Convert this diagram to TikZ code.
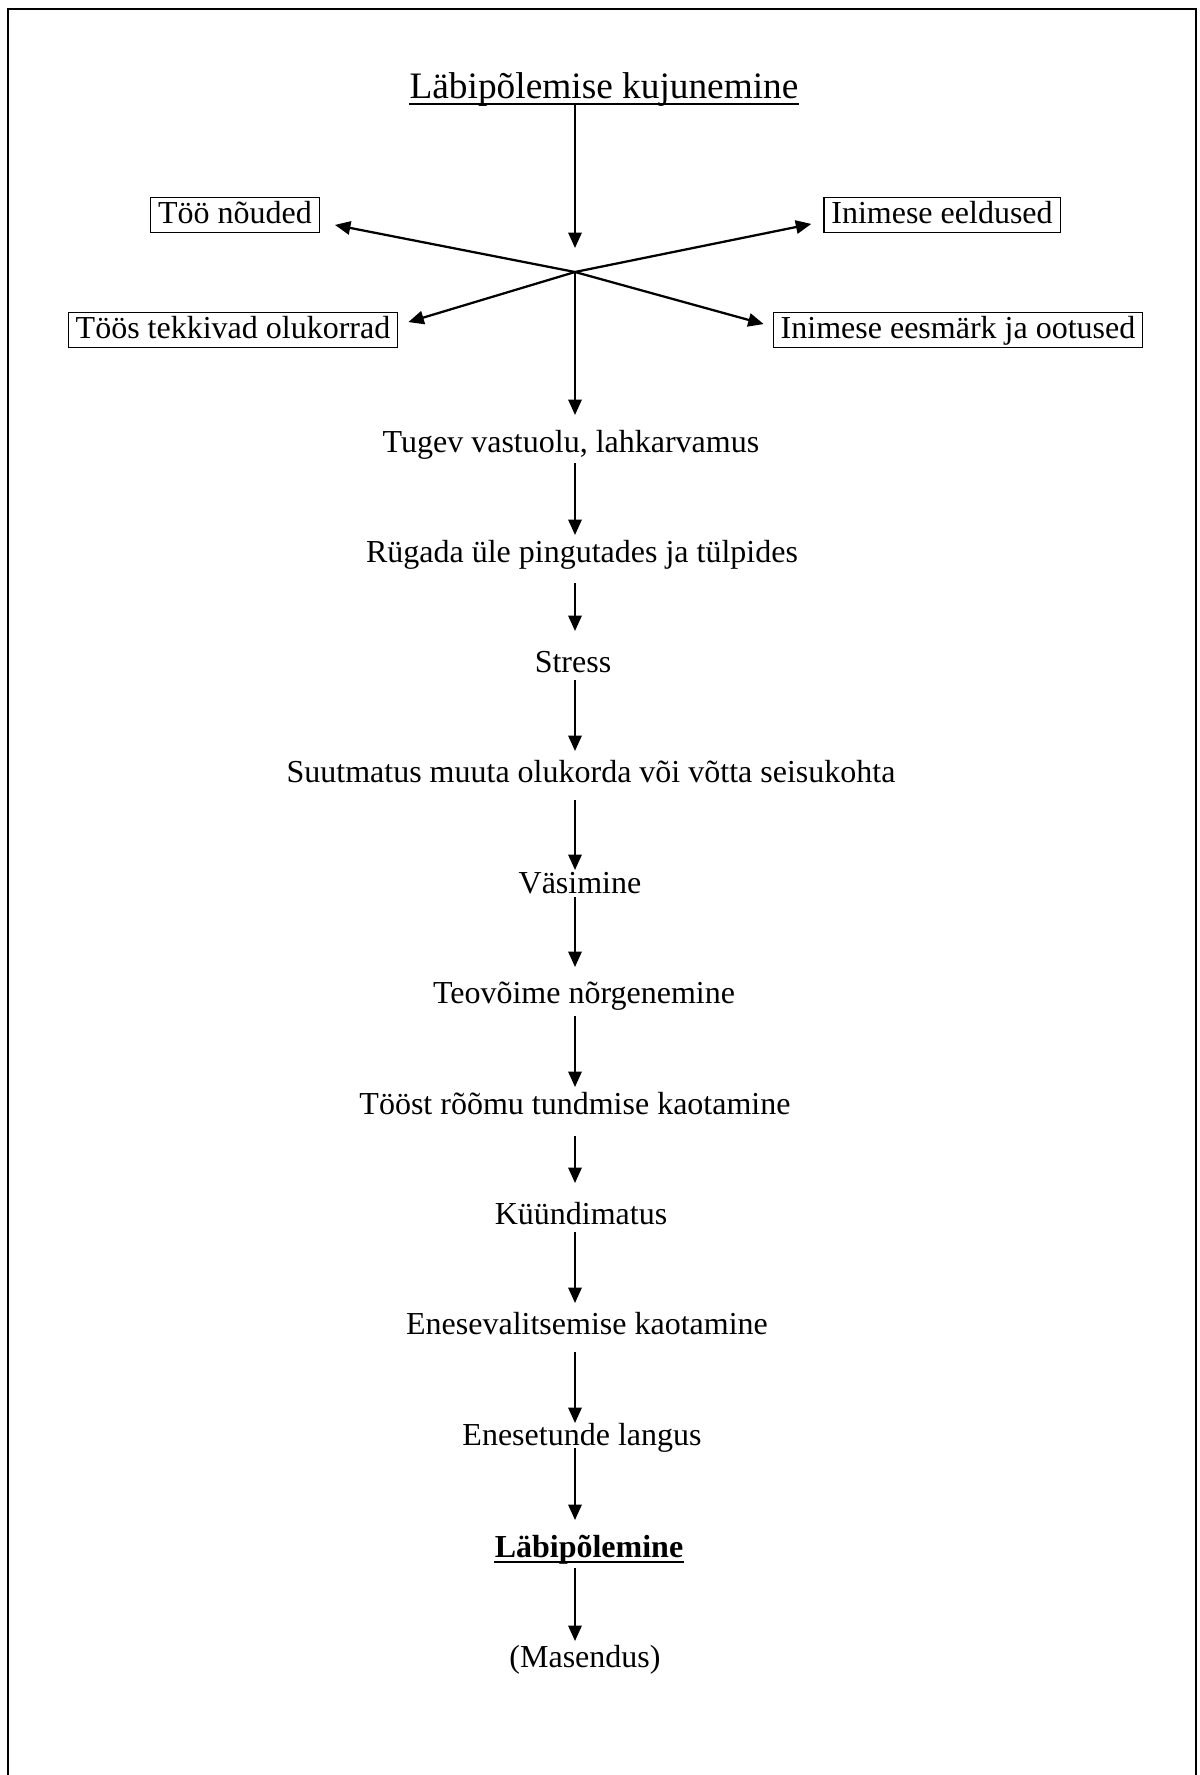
\documentclass[tikz,border=0pt]{standalone}
\usepackage{fontspec}
\setmainfont{Liberation Serif}
\usetikzlibrary{arrows.meta,calc}

\begin{document}
\begin{tikzpicture}[
    x=0.375pt,y=-0.375pt,
    font=\fontsize{12}{14}\selectfont,
    stage/.style={anchor=base,inner sep=0pt,text height=0.75em,text depth=0.2em},
    heading/.style={stage,font=\fontsize{14}{16}\selectfont},
    strong/.style={stage,font=\fontsize{12}{14}\selectfont\bfseries},
    factor/.style={draw=black,line width=0.45pt,anchor=base,inner xsep=2.8pt,inner ysep=2pt,text height=0.75em,text depth=0.15em},
    flow/.style={draw=black,line width=0.85pt,-{Triangle[length=5.8pt,width=5pt]}},
    frameline/.style={draw=black,line width=0.8pt}
]
\useasboundingbox (0,0) rectangle (1200,1775);
\draw[frameline] (8,1775) -- (8,9) -- (1196,9) -- (1196,1775);


\coordinate (spine) at (575,0);
\coordinate (hub) at (575,272);


\node[heading] (title) at (604,98) {Läbipõlemise kujunemine};
\draw[line width=0.45pt] ($(title.base west)+(0,6)$) -- ($(title.base east)+(0,6)$);


\node[factor] (noudeid) at (235,223) {Töö nõuded};
\node[factor] (eeldused) at (942,223) {Inimese eeldused};
\node[factor] (olukorrad) at (233,338) {Töös tekkivad olukorrad};
\node[factor] (ootused) at (958,338) {Inimese eesmärk ja ootused};


\node[stage] (tugev) at (571,452) {Tugev vastuolu, lahkarvamus};
\node[stage] (rugada) at (582,562) {Rügada üle pingutades ja tülpides};
\node[stage] (stress) at (573,672) {Stress};
\node[stage] (suutmatus) at (591,782) {Suutmatus muuta olukorda või võtta seisukohta};
\node[stage] (vasimine) at (580,893) {Väsimine};
\node[stage] (teovoime) at (584,1003) {Teovõime nõrgenemine};
\node[stage] (roomu) at (575,1114) {Tööst rõõmu tundmise kaotamine};
\node[stage] (kuundimatus) at (581,1224) {Küündimatus};
\node[stage] (enesevalitsemine) at (587,1334) {Enesevalitsemise kaotamine};
\node[stage] (enesetunne) at (582,1445) {Enesetunde langus};
\node[strong] (labipolemine) at (589,1557) {Läbipõlemine};
\draw[line width=1.1pt] ($(labipolemine.base west)+(0,5)$) -- ($(labipolemine.base east)+(0,5)$);
\node[stage] (masendus) at (585,1667) {(Masendus)};


\draw[flow] ($(title.base -| spine)+(0,7)$) -- ($(hub)+(0,-24)$);
\draw[flow] (hub) -- ($(noudeid.south east)+(15,-8)$);
\draw[flow] (hub) -- ($(eeldused.south west)+(-12,-9)$);
\draw[flow] (hub) -- ($(olukorrad.north east)+(10,10)$);
\draw[flow] (hub) -- ($(ootused.north west)+(-9,12)$);
\draw[flow] (hub) -- ($(tugev.base -| spine)+(0,-37)$);


\foreach \a/\b/\s/\e in {tugev/rugada/11/27, rugada/stress/21/41, stress/suutmatus/8/31,
    suutmatus/vasimine/18/23, vasimine/teovoime/4/36, teovoime/roomu/13/27,
    roomu/kuundimatus/22/41, kuundimatus/enesevalitsemine/8/31,
    enesevalitsemine/enesetunne/18/22, enesetunne/labipolemine/3/37,
    labipolemine/masendus/11/26} {
    \draw[flow] ($(\a.base -| spine)+(0,\s)$) -- ($(\b.base -| spine)+(0,-\e)$);
}
\end{tikzpicture}
\end{document}
